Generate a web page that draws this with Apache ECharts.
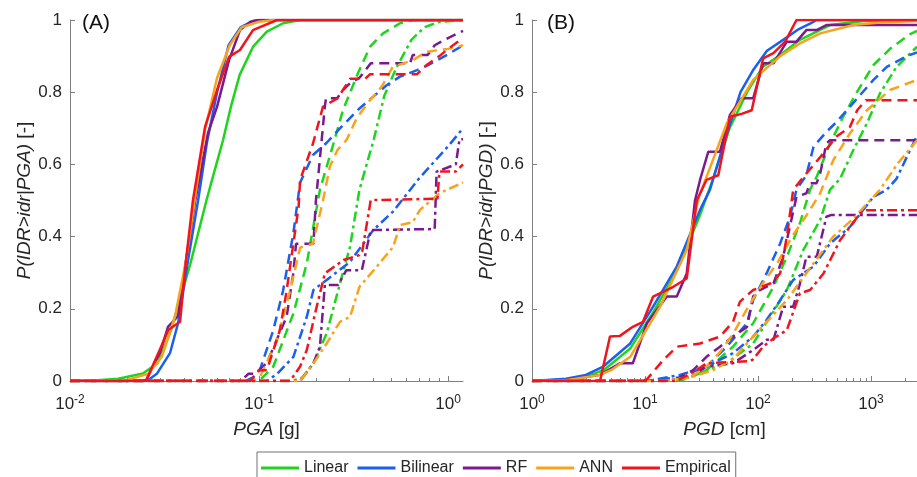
<!DOCTYPE html>
<html>
<head>
<meta charset="utf-8">
<title>IDR fragility curves</title>
<script src="https://cdn.jsdelivr.net/npm/echarts@6.0.0/dist/echarts.min.js"></script>
<style>
  html, body { margin: 0; padding: 0; background: #fff; }
  #chart { width: 917px; height: 477px; }
</style>
</head>
<body>
<div id="chart"></div>
<script>
  // legend order
  const models = ['Linear', 'Bilinear', 'RF', 'ANN', 'Empirical'];

  // ---- panel A : P(IDR>idr | PGA), PGA in g ----
  // suffix 1 = solid, 2 = dashed, 3 = dash-dot
  const linA1 = [[0.01,0],[0.014,0.002],[0.018,0.006],[0.0243,0.021],[0.029,0.049],[0.0338,0.132],[0.0431,0.32],[0.0527,0.5],[0.058,0.58],[0.0645,0.667],[0.071,0.76],[0.079,0.848],[0.093,0.926],[0.11,0.968],[0.134,0.991],[0.165,1],[1.2,1]];
  const bilA1 = [[0.01,0],[0.02,0],[0.026,0.003],[0.0289,0.021],[0.0338,0.077],[0.0373,0.16],[0.042,0.33],[0.0476,0.5],[0.053,0.66],[0.06,0.8],[0.069,0.93],[0.08,0.98],[0.093,0.997],[0.1,1],[1.2,1]];
  const rfA1 = [[0.01,0],[0.0252,0],[0.03,0.08],[0.033,0.15],[0.0373,0.18],[0.041,0.33],[0.046,0.5],[0.0537,0.687],[0.06,0.76],[0.0694,0.889],[0.0793,0.972],[0.09,0.995],[0.1,1],[1.2,1]];
  const annA1 = [[0.01,0],[0.02,0.003],[0.026,0.02],[0.0306,0.067],[0.0359,0.178],[0.041,0.33],[0.0465,0.53],[0.052,0.7],[0.06,0.84],[0.07,0.93],[0.081,0.98],[0.1,0.995],[0.12,1],[1.2,1]];
  const empA1 = [[0.01,0],[0.0252,0],[0.0299,0.087],[0.0331,0.141],[0.0382,0.164],[0.041,0.33],[0.0447,0.5],[0.0518,0.704],[0.06,0.806],[0.0694,0.898],[0.0793,0.917],[0.0929,0.972],[0.1245,1],[1.2,1]];

  const linA2 = [[0.01,0],[0.1,0],[0.119,0.04],[0.152,0.187],[0.179,0.326],[0.21,0.53],[0.245,0.649],[0.278,0.75],[0.334,0.853],[0.387,0.926],[0.453,0.963],[0.557,0.991],[0.653,1],[1.2,1]];
  const bilA2 = [[0.01,0],[0.085,0],[0.093,0.01],[0.101,0.03],[0.119,0.141],[0.134,0.25],[0.152,0.41],[0.165,0.55],[0.193,0.626],[0.228,0.66],[0.268,0.7],[0.34,0.755],[0.475,0.82],[0.557,0.843],[0.686,0.861],[0.784,0.875],[1.0,0.905],[1.2,0.93]];
  const rfA2 = [[0.01,0],[0.08,0],[0.088,0.02],[0.095,0.02],[0.11,0.05],[0.124,0.114],[0.14,0.178],[0.152,0.3],[0.157,0.38],[0.194,0.38],[0.2,0.5],[0.223,0.76],[0.226,0.783],[0.259,0.783],[0.278,0.806],[0.303,0.825],[0.34,0.84],[0.39,0.88],[0.63,0.88],[0.65,0.903],[0.78,0.903],[0.85,0.93],[1.0,0.95],[1.2,0.97]];
  const annA2 = [[0.01,0],[0.09,0],[0.101,0.01],[0.124,0.11],[0.146,0.25],[0.165,0.37],[0.193,0.38],[0.218,0.5],[0.237,0.594],[0.26,0.64],[0.29,0.667],[0.33,0.73],[0.387,0.778],[0.445,0.815],[0.51,0.87],[0.653,0.889],[0.77,0.912],[1.0,0.92],[1.2,0.93]];
  const empA2 = [[0.01,0],[0.09,0],[0.1,0.03],[0.11,0.03],[0.129,0.141],[0.14,0.25],[0.162,0.483],[0.165,0.557],[0.193,0.658],[0.218,0.76],[0.26,0.783],[0.278,0.806],[0.303,0.837],[0.364,0.837],[0.387,0.85],[0.686,0.85],[0.77,0.875],[0.9,0.9],[1.0,0.92],[1.2,0.95]];

  const linA3 = [[0.01,0],[0.15,0],[0.17,0.01],[0.194,0.049],[0.228,0.132],[0.268,0.27],[0.303,0.372],[0.34,0.53],[0.405,0.67],[0.46,0.79],[0.535,0.87],[0.64,0.945],[0.75,0.98],[0.9,0.995],[1.2,1]];
  const bilA3 = [[0.01,0],[0.11,0],[0.125,0.02],[0.152,0.067],[0.179,0.178],[0.194,0.252],[0.228,0.28],[0.303,0.33],[0.402,0.418],[0.513,0.47],[0.7,0.56],[1.0,0.65],[1.2,0.7]];
  const rfA3 = [[0.01,0],[0.165,0],[0.194,0.049],[0.21,0.095],[0.223,0.266],[0.262,0.266],[0.29,0.307],[0.35,0.307],[0.39,0.418],[0.85,0.421],[0.87,0.58],[1.1,0.6],[1.15,0.67],[1.2,0.67]];
  const annA3 = [[0.01,0],[0.165,0],[0.194,0.049],[0.228,0.104],[0.268,0.164],[0.303,0.178],[0.34,0.261],[0.42,0.317],[0.513,0.372],[0.557,0.432],[0.65,0.44],[0.711,0.474],[0.9,0.52],[1.2,0.55]];
  const empA3 = [[0.01,0],[0.146,0],[0.165,0.04],[0.179,0.086],[0.2,0.197],[0.223,0.298],[0.28,0.335],[0.34,0.349],[0.352,0.36],[0.39,0.501],[0.88,0.505],[0.9,0.58],[1.1,0.58],[1.2,0.6]];

  // ---- panel B : P(IDR>idr | PGD), PGD in cm ----
  const linB1 = [[1,0],[2,0.004],[3,0.012],[4.3,0.03],[7.4,0.09],[11.8,0.19],[19.1,0.305],[30.7,0.46],[40,0.56],[56,0.7],[80,0.8],[110,0.87],[157,0.903],[235,0.945],[331,0.968],[434,0.986],[857,0.997],[2553,1]];
  const bilB1 = [[1,0],[2,0.006],[3,0.017],[4.27,0.04],[7.4,0.104],[11.8,0.206],[19.1,0.317],[30.7,0.474],[37.6,0.53],[50,0.66],[70,0.8],[90,0.86],[120,0.915],[167,0.945],[230,0.975],[289,0.99],[331,1],[2553,1]];
  const rfB1 = [[1,0],[2,0.003],[4,0.017],[6,0.049],[7.8,0.049],[10.4,0.16],[15.6,0.234],[19.1,0.234],[23.4,0.298],[27.7,0.5],[30.7,0.557],[36.3,0.635],[46,0.635],[56.5,0.737],[71.6,0.783],[90.6,0.783],[111,0.88],[137,0.88],[180,0.94],[219,0.94],[268,0.972],[330,0.972],[403,0.986],[2553,0.986]];
  const annB1 = [[1,0],[2,0.002],[4,0.017],[5,0.03],[7.4,0.067],[13.6,0.206],[23.4,0.363],[30,0.51],[53,0.714],[90.6,0.834],[157,0.9],[235,0.935],[355,0.963],[698,0.986],[1200,0.993],[2553,0.997]];
  const empB1 = [[1,0],[4,0],[4.9,0.123],[6,0.125],[7.8,0.15],[9.6,0.164],[11.8,0.234],[17.8,0.261],[23.4,0.284],[28.7,0.5],[35,0.557],[44.5,0.57],[56.5,0.732],[71.6,0.74],[88,0.75],[111,0.894],[137,0.908],[174,0.94],[219,1],[2553,1]];

  const linB2 = [[1,0],[20,0],[25,0.01],[35,0.03],[60,0.095],[90.6,0.16],[137,0.261],[180,0.344],[235,0.437],[289,0.53],[331,0.566],[434,0.658],[568,0.732],[750,0.8],[1050,0.875],[1473,0.92],[2200,0.96],[2553,0.97]];
  const bilB2 = [[1,0],[10,0],[20,0.01],[35,0.04],[52.8,0.095],[79.8,0.16],[90.6,0.224],[119,0.298],[157,0.381],[192,0.455],[219,0.53],[268,0.57],[310,0.649],[403,0.69],[483,0.714],[652,0.76],[1050,0.834],[1380,0.87],[2070,0.9],[2553,0.91]];
  const rfB2 = [[1,0],[15,0],[19.1,0.005],[26.7,0.03],[35,0.067],[46.1,0.095],[60,0.123],[80,0.15],[90.6,0.234],[104,0.252],[137,0.27],[167,0.344],[180,0.39],[219,0.51],[268,0.52],[289,0.548],[330,0.548],[355,0.575],[403,0.658],[434,0.667],[2553,0.667]];
  const annB2 = [[1,0],[15,0],[25,0.01],[35,0.04],[46,0.08],[60,0.13],[80,0.2],[110,0.27],[150,0.33],[200,0.4],[270,0.46],[355,0.52],[464,0.612],[652,0.686],[920,0.75],[1473,0.806],[2553,0.834]];
  const empB2 = [[1,0],[9.5,0],[10.4,0.005],[14.5,0.058],[19.1,0.095],[30.7,0.104],[46.1,0.123],[60.1,0.164],[69.3,0.22],[90.6,0.252],[128,0.27],[157,0.298],[180,0.4],[205,0.53],[268,0.575],[355,0.62],[495,0.677],[652,0.704],[755,0.75],[900,0.778],[2553,0.778]];

  const linB3 = [[1,0],[15,0],[25,0.01],[35,0.03],[52.8,0.049],[90.6,0.104],[128,0.178],[180,0.252],[252,0.363],[355,0.446],[434,0.53],[532,0.56],[698,0.64],[920,0.714],[1202,0.797],[1680,0.87],[2553,0.926]];
  const bilB3 = [[1,0],[10,0],[11.8,0.003],[20.4,0.017],[35,0.04],[60,0.077],[90.6,0.123],[119,0.169],[157,0.224],[205,0.28],[310,0.317],[434,0.381],[652,0.427],[1050,0.51],[1380,0.53],[1680,0.56],[2553,0.68]];
  const rfB3 = [[1,0],[15,0],[25,0.01],[35,0.04],[60,0.049],[90.6,0.086],[119,0.114],[137,0.114],[167,0.206],[205,0.206],[235,0.27],[268,0.344],[331,0.344],[403,0.455],[447,0.46],[2553,0.46]];
  const annB3 = [[1,0],[15,0],[25,0.01],[40,0.03],[60,0.06],[90.6,0.123],[180,0.224],[310,0.326],[464,0.4],[698,0.45],[1200,0.53],[1700,0.6],[2553,0.667]];
  const empB3 = [[1,0],[19.1,0],[28.7,0.03],[35,0.049],[85,0.055],[90.6,0.06],[111,0.095],[137,0.118],[180,0.141],[235,0.243],[289,0.252],[380,0.298],[532,0.39],[652,0.427],[799,0.464],[920,0.473],[2553,0.473]];

  // axis ranges and tick values
  const pgaRange = [0.01, 1.2];
  const pgdRange = [1, 2553];
  const pgaMajor = [0.01, 0.1, 1];
  const pgdMajor = [1, 10, 100, 1000];

  const curvesA = {
    Linear: [linA1, linA2, linA3],
    Bilinear: [bilA1, bilA2, bilA3],
    RF: [rfA1, rfA2, rfA3],
    ANN: [annA1, annA2, annA3],
    Empirical: [empA1, empA2, empA3],
  };
  const curvesB = {
    Linear: [linB1, linB2, linB3],
    Bilinear: [bilB1, bilB2, bilB3],
    RF: [rfB1, rfB2, rfB3],
    ANN: [annB1, annB2, annB3],
    Empirical: [empB1, empB2, empB3],
  };

  const colors = {
    Linear: '#1ed41e',
    Bilinear: '#1a5ff0',
    RF: '#7b1a8e',
    ANN: '#f9a31c',
    Empirical: '#f2141c',
  };
  const dashTypes = ['solid', [10, 6], [10, 4, 3, 4]];

  const FONT = '"Liberation Sans", Arial, Helvetica, sans-serif';
  const axisGrey = '#808080';
  const textColor = '#262626';

  // 2..9 inside each decade, for the short minor ticks
  const minorTicks = (range) => {
    const out = [];
    for (let d = Math.floor(Math.log10(range[0])); d <= Math.ceil(Math.log10(range[1])); d++) {
      for (let k = 2; k <= 9; k++) {
        const v = k * Math.pow(10, d);
        if (v > range[0] && v < range[1]) out.push(v);
      }
    }
    return out;
  };

  const powLabel = (v) => {
    const e = Math.round(Math.log10(v));
    if (Math.abs(v - Math.pow(10, e)) > 1e-9 * Math.max(1, v)) return '';
    return '{b|10}{s|' + e + '}';
  };

  const nameStyle = {
    fontSize: 19,
    color: textColor,
    fontFamily: FONT,
    rich: { i: { fontStyle: 'italic', fontSize: 19, color: textColor, fontFamily: FONT } },
  };

  const xMajor = (gridIndex, range, ticks, nameText) => ({
    type: 'log',
    logBase: 10,
    gridIndex,
    position: 'bottom',
    min: range[0],
    max: range[1],
    name: nameText,
    nameLocation: 'middle',
    nameGap: 39,
    nameTextStyle: nameStyle,
    axisLine: { show: true, onZero: false, lineStyle: { color: axisGrey, width: 1 } },
    axisTick: { show: true, inside: true, length: 5, customValues: ticks, lineStyle: { color: axisGrey } },
    axisLabel: {
      customValues: ticks,
      margin: 13,
      formatter: powLabel,
      rich: {
        b: { fontSize: 17, lineHeight: 20, color: textColor, fontFamily: FONT },
        s: { fontSize: 12, lineHeight: 12, verticalAlign: 'top', color: textColor, fontFamily: FONT },
      },
    },
    splitLine: { show: false },
    minorTick: { show: false },
  });

  const xMinor = (gridIndex, range) => ({
    type: 'log',
    logBase: 10,
    gridIndex,
    position: 'bottom',
    min: range[0],
    max: range[1],
    axisLine: { show: false },
    axisTick: { show: true, inside: true, length: 3, customValues: minorTicks(range), lineStyle: { color: axisGrey } },
    axisLabel: { show: false },
    splitLine: { show: false },
  });

  const yAxisFor = (gridIndex, nameText) => ({
    type: 'value',
    gridIndex,
    min: 0,
    max: 1,
    interval: 0.2,
    name: nameText,
    nameLocation: 'middle',
    nameGap: 35,
    nameTextStyle: nameStyle,
    axisLine: { show: true, onZero: false, lineStyle: { color: axisGrey, width: 1 } },
    axisTick: { show: true, inside: true, length: 5, lineStyle: { color: axisGrey } },
    axisLabel: { fontSize: 17, color: textColor, margin: 8, fontFamily: FONT },
    splitLine: { show: false },
  });

  const makeSeries = (curves, xIdx, yIdx) => {
    const out = [];
    models.forEach((m) => {
      curves[m].forEach((data, k) => {
        out.push({
          name: m,
          type: 'line',
          xAxisIndex: xIdx,
          yAxisIndex: yIdx,
          data,
          symbol: 'none',
          silent: true,
          lineStyle: { color: colors[m], width: 2.5, type: dashTypes[k], cap: 'butt' },
          itemStyle: { color: colors[m] },
        });
      });
    });
    return out;
  };

  const chart = echarts.init(document.getElementById('chart'), null, { renderer: 'canvas' });

  const option = {
    animation: false,
    backgroundColor: '#ffffff',
    textStyle: { fontFamily: FONT },
    grid: [
      { left: 70, top: 20, width: 393, height: 361, containLabel: false },
      { left: 532, top: 20, width: 385, height: 361, containLabel: false },
    ],
    xAxis: [
      xMajor(0, pgaRange, pgaMajor, '{i|PGA} [g]'),
      xMinor(0, pgaRange),
      xMajor(1, pgdRange, pgdMajor, '{i|PGD} [cm]'),
      xMinor(1, pgdRange),
    ],
    yAxis: [
      yAxisFor(0, '{i|P(IDR>idr|PGA)} [-]'),
      yAxisFor(1, '{i|P(IDR>idr|PGD)} [-]'),
    ],
    legend: {
      data: models,
      orient: 'horizontal',
      left: 257,
      top: 452,
      padding: [8, 5, 14, 4],
      itemWidth: 38,
      itemHeight: 3,
      itemGap: 9,
      icon: 'rect',
      borderColor: '#707070',
      borderWidth: 1,
      selectedMode: false,
      textStyle: { fontSize: 16, color: textColor, fontFamily: FONT },
    },
    graphic: [
      { type: 'text', left: 82, top: 13, style: { text: '(A)', fontSize: 21, fontFamily: FONT, fill: '#111' } },
      { type: 'text', left: 547, top: 13, style: { text: '(B)', fontSize: 21, fontFamily: FONT, fill: '#111' } },
    ],
    series: [...makeSeries(curvesA, 0, 0), ...makeSeries(curvesB, 2, 1)],
  };

  chart.setOption(option);
</script>
</body>
</html>
